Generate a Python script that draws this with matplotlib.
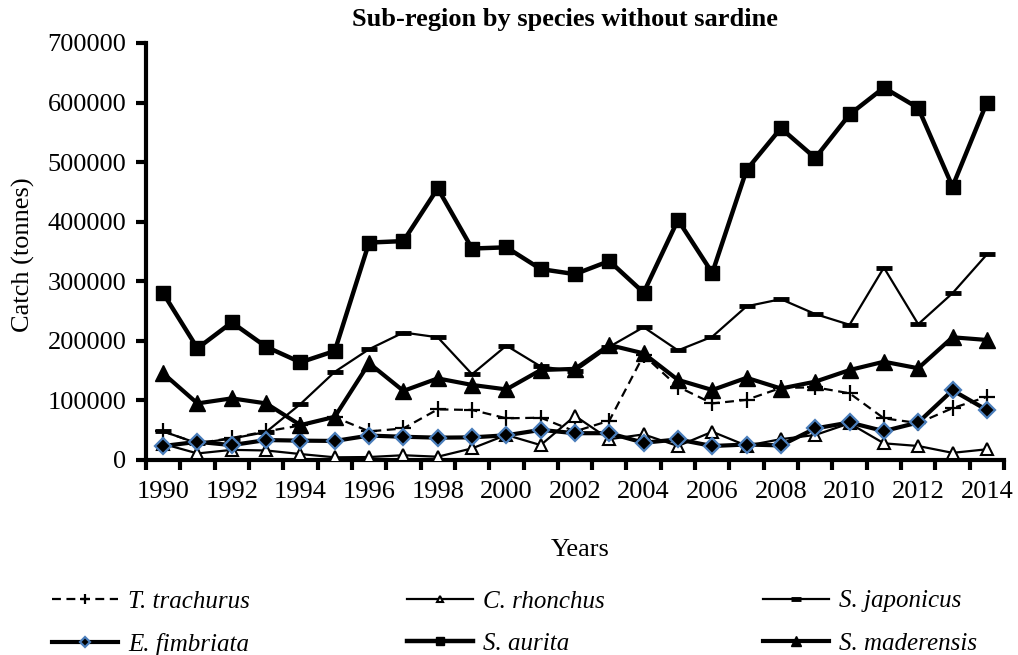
import matplotlib
matplotlib.use('Agg')
import matplotlib.pyplot as plt
from matplotlib.ticker import MultipleLocator, FixedLocator

plt.rcParams['font.family'] = ['Liberation Serif', 'DejaVu Serif']

years = list(range(1990, 2015))

t_trachurus = [48000, 28000, 37000, 48000, 58000, 72000, 48000, 53000, 85000, 84000,
               70000, 71000, 48000, 66000, 176000, 123000, 95000, 101000, 121000, 122000,
               112000, 70000, 62000, 87000, 106000]
c_rhonchus = [27000, 11000, 17000, 16000, 10000, 4500, 5000, 8000, 5500, 19500,
              42000, 25000, 74000, 35000, 43000, 23500, 47500, 24000, 35000, 42000,
              61500, 28000, 23500, 12000, 18000]
s_japonicus = [48000, 28000, 36000, 47000, 94000, 148000, 186000, 214000, 206000, 144000,
               192000, 157000, 149000, 190000, 223000, 184000, 207000, 258000, 270000, 245000,
               227000, 323000, 228000, 280000, 345000]
e_fimbriata = [23500, 30500, 25000, 33500, 32500, 32000, 41000, 39000, 37500, 38000,
               41500, 50500, 45000, 45000, 29000, 34500, 23500, 26000, 24500, 53000,
               63000, 48500, 63000, 117000, 84000]
s_aurita = [280000, 187500, 231000, 190000, 164000, 183000, 365000, 367500, 456000, 355000,
            357000, 320500, 312000, 334000, 281000, 403000, 314000, 487000, 557000, 507000,
            580000, 625000, 591000, 459000, 600000]
s_maderensis = [145500, 95000, 103500, 95000, 58500, 72500, 162500, 116000, 137000, 126000,
                118500, 151000, 153000, 193000, 179000, 134500, 117500, 138000, 120000, 131500,
                151000, 165000, 154000, 206000, 201500]

fig = plt.figure(figsize=(10.18, 6.55), dpi=100)
ax = fig.add_axes([146/1018, 1-460/655, 858/1018, 417/655])

blue = '#4a7ebb'
ax.plot(years, c_rhonchus, color='black', lw=1.6, marker='^', ms=8, mfc='white', mec='black', mew=1.5,
        label='C. rhonchus', zorder=3)
ax.plot(years, t_trachurus, color='black', lw=1.6, ls=(0, (4, 2.5)), marker='+', ms=11, mew=1.6,
        label='T. trachurus', zorder=3)
ax.plot(years, s_japonicus, color='black', lw=1.6, marker='_', ms=11, mew=3.5,
        label='S. japonicus', zorder=3)
ax.plot(years, e_fimbriata, color='black', lw=3, marker='D', ms=8, mfc='black', mec=blue, mew=1.6,
        label='E. fimbriata', zorder=4)
ax.plot(years, s_maderensis, color='black', lw=3, marker='^', ms=11,
        label='S. maderensis', zorder=4)
ax.plot(years, s_aurita, color='black', lw=3.2, marker='s', ms=10,
        label='S. aurita', zorder=5)

ax.set_xlim(1989.5, 2014.5)
ax.set_ylim(0, 700000)
ax.yaxis.set_major_locator(MultipleLocator(100000))
ax.xaxis.set_major_locator(FixedLocator(years[::2]))
ax.xaxis.set_minor_locator(FixedLocator([y + 0.5 for y in range(1989, 2015)]))
ax.tick_params(axis='x', which='major', length=0, labelsize=19, pad=15)
ax.tick_params(axis='x', which='minor', length=7, width=3, direction='out')
ax.tick_params(axis='y', length=7, width=3, direction='out', labelsize=19, pad=7)

for s in ['top', 'right']:
    ax.spines[s].set_visible(False)
for s in ['left', 'bottom']:
    ax.spines[s].set_linewidth(3)

ax.set_title('Sub-region by species without sardine', fontsize=19, fontweight='bold',
             x=0.488, y=(460-20)/417, va='center', pad=0)
ax.set_xlabel('Years', fontsize=19)
ax.xaxis.set_label_coords((580-146)/858, (460-550)/417)
ax.xaxis.label.set_va('center')
ax.set_ylabel('Catch (tonnes)', fontsize=19)
ax.yaxis.set_label_coords((23-146)/858, (460-255)/417)
ax.yaxis.label.set_va('center')

h, l = ax.get_legend_handles_labels()
order = ['T. trachurus', 'E. fimbriata', 'C. rhonchus', 'S. aurita', 'S. japonicus', 'S. maderensis']
hs = [h[l.index(n)] for n in order]
leg = ax.legend(hs, order, loc='upper left', bbox_to_anchor=(52/1018, 1-590/655),
                bbox_transform=fig.transFigure, ncol=3, frameon=False, markerscale=0.6,
                prop={'style': 'italic', 'size': 18}, handlelength=2.64, handletextpad=0.4,
                columnspacing=6.3, labelspacing=0.8, borderpad=0, borderaxespad=0)

fig.savefig('out.png', dpi=100)
